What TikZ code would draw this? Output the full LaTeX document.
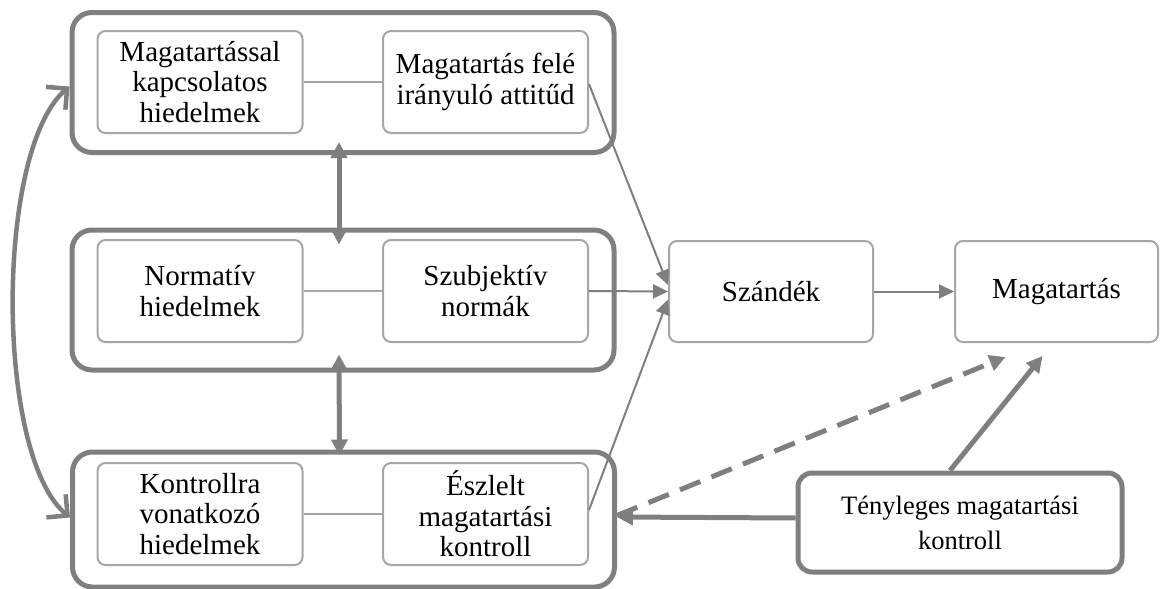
\documentclass[tikz,border=0pt]{standalone}
\usepackage{fontspec}
\setmainfont{Liberation Serif}
\usetikzlibrary{arrows.meta}
\definecolor{darkline}{HTML}{7F7F7F}
\definecolor{lightline}{HTML}{A6A6A6}

\begin{document}
\begin{tikzpicture}[x=1pt,y=-1pt,
  groupbox/.style={draw=darkline, line width=5pt, rounded corners=20pt,
    minimum width=542pt, minimum height=140pt, inner sep=0pt},
  itembox/.style={draw=lightline, line width=2pt, rounded corners=8pt, fill=white,
    minimum width=205pt, minimum height=102pt, inner sep=0pt, align=center,
    font=\fontsize{29}{30.5}\selectfont},
  actualbox/.style={draw=darkline, line width=5pt, rounded corners=14pt,
    minimum width=324pt, minimum height=99pt, inner sep=0pt, align=center,
    font=\fontsize{26.5}{35}\selectfont},
  link/.style={draw=lightline, line width=2pt},
  thinarrow/.style={draw=darkline, line width=2pt, -{Triangle[length=15pt,width=14pt]}},
  thickarrow/.style={draw=darkline, line width=5pt, -{Triangle[length=16pt,width=16pt]}},
  bothways/.style={draw=darkline, line width=5pt,
    {Triangle[length=16pt,width=16pt]}-{Triangle[length=16pt,width=16pt]}},
  curvearrow/.style={draw=darkline, line width=4.5pt,
    {Straight Barb[length=15pt,width=30pt]}-{Straight Barb[length=15pt,width=30pt]}},
  dashedarrow/.style={draw=darkline, line width=5pt, dash pattern=on 22pt off 12pt,
    -{Triangle[length=16pt,width=16pt]}}
]
\useasboundingbox (0,0) rectangle (1160,589);

% three groups of beliefs
\node[groupbox] (g1) at (343,82.5) {};
\node[groupbox] (g2) at (343,300) {};
\node[groupbox, minimum height=135pt] (g3) at (343.5,519.5) {};

% belief boxes and their outcomes
\node[itembox] (b11) at (200,82) {Magatartással\\kapcsolatos\\hiedelmek};
\node[itembox] (b12) at (485.5,82) {Magatartás felé\\irányuló attitűd};
\node[itembox] (b21) at (200,291) {Normatív\\hiedelmek};
\node[itembox] (b22) at (485.5,291) {Szubjektív\\normák};
\node[itembox] (b31) at (200,514) {Kontrollra\\vonatkozó\\hiedelmek};
\node[itembox] (b32) at (485.5,514) {Észlelt\\magatartási\\kontroll};

\node[itembox, minimum width=204pt, minimum height=101pt] (sz) at (771,291.5) {Szándék};
\node[itembox, minimum width=203pt, minimum height=101pt] (mag) at (1056.5,291.5) {Magatartás};
\node[actualbox] (ten) at (960,522.5) {Tényleges magatartási\\kontroll};

% links inside the groups
\draw[link] (b11) -- (b12);
\draw[link] (b21) -- (b22);
\draw[link] (b31) -- (b32);

% links between the groups
\draw[bothways] ([xshift=-4pt,yshift=13pt]g1.south) -- ([xshift=-4pt,yshift=-17pt]g2.north);
\draw[bothways] ([xshift=-4pt,yshift=18pt]g2.south) -- ([xshift=-4pt,yshift=-6pt]g3.north);
\draw[curvearrow] ([yshift=-4pt]g1.west) .. controls (-5,150) and (-5,455) .. ([yshift=2pt]g3.west);

% paths towards intention and behaviour
\draw[thinarrow] ([yshift=-2pt]b12.east) -- ([yshift=6.5pt]sz.west);
\draw[thinarrow] (b22.east) -- (sz.west);
\draw[thinarrow] ([yshift=4pt]b32.east) -- ([yshift=-8pt]sz.west);
\draw[thinarrow] (sz) -- (mag);

% actual control
\draw[thickarrow] ([yshift=4.5pt]ten.west) -- ([yshift=2.5pt]g3.east);
\draw[thickarrow] ([xshift=-10pt]ten.north) -- ([xshift=-14pt,yshift=-13pt]mag.south);
\draw[dashedarrow] ([yshift=4pt]g3.east) -- ([xshift=-51pt,yshift=-14pt]mag.south);
\end{tikzpicture}
\end{document}
